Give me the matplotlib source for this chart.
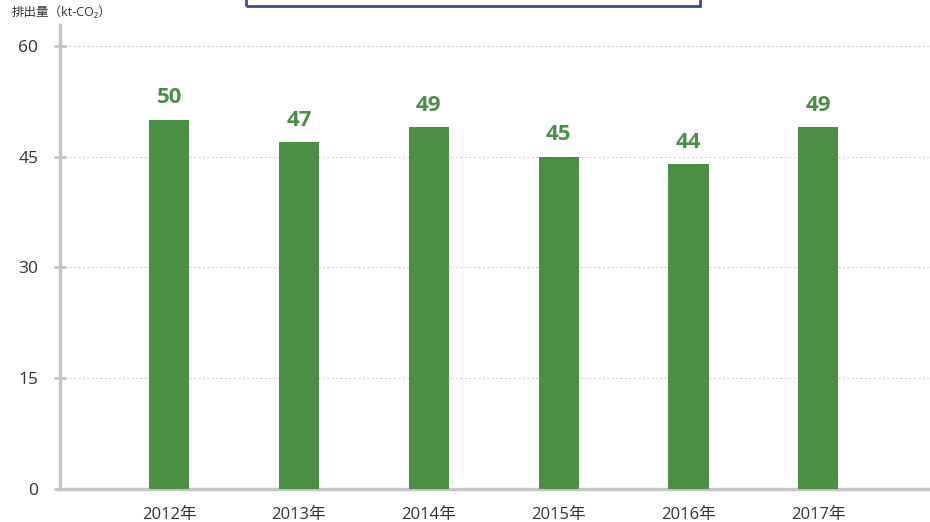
import matplotlib
matplotlib.use("Agg")
import matplotlib.pyplot as plt
from matplotlib.patches import Rectangle

plt.rcParams['font.family'] = ['Open Sans', 'Noto Sans CJK JP', 'DejaVu Sans']

# データ
years = ['2012年', '2013年', '2014年', '2015年', '2016年', '2017年']
emissions = [50, 47, 49, 45, 44, 49]
yticks = [0, 15, 30, 45, 60]

green = '#4a8f44'
axis_gray = '#c4c4c4'

fig = plt.figure(figsize=(9.3, 5.22), dpi=100)
ax = fig.add_axes([60 / 930, 33 / 522, 870 / 930, 464 / 522])

x = range(len(years))
bars = ax.bar(x, emissions, width=0.31, color=green, zorder=3)

for xi, v in zip(x, emissions):
    ax.text(xi, v + 1.5, str(v), ha='center', va='bottom', color=green,
            fontsize=16, fontweight='bold')

ax.set_xlim(-0.84, 5.86)
ax.set_ylim(0, 62.8)
ax.set_yticks(yticks)
ax.set_xticks(list(x))
ax.set_xticklabels(years)

ax.grid(axis='y', color='#d0d0d0', linestyle=(0, (2, 2)), linewidth=0.8, zorder=0)
ax.grid(axis='x', visible=False)

for side in ['top', 'right']:
    ax.spines[side].set_visible(False)
for side in ['left', 'bottom']:
    ax.spines[side].set_color(axis_gray)
    ax.spines[side].set_linewidth(2.5)

ax.tick_params(axis='y', direction='inout', length=9, width=2, color=axis_gray,
               labelsize=12.5, labelcolor='#333333', pad=11)
ax.tick_params(axis='x', length=0, labelsize=12, labelcolor='#333333', pad=13)

fig.text(12 / 930, 1 - 13 / 522, '排出量（kt-CO₂）', fontsize=9, color='#333333',
         ha='left', va='center')

# 上部の枠
fig.patches.append(Rectangle((246 / 930, 1 - 6 / 522), 454 / 930, 20 / 522,
                             transform=fig.transFigure, fill=False,
                             edgecolor='#3a4a9c', linewidth=2))

fig.savefig('out.png', dpi=100)
